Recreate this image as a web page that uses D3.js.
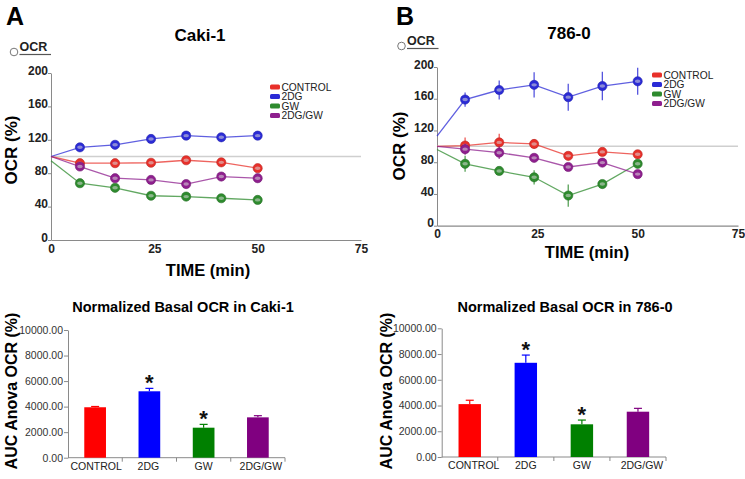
<!DOCTYPE html>
<html>
<head>
<meta charset="utf-8">
<script src="https://cdn.jsdelivr.net/npm/d3@7"></script>
<style>
  html, body { margin: 0; padding: 0; background: #fff; }
  svg { display: block; font-family: "Liberation Sans", Arial, sans-serif; }
</style>
</head>
<body>
<svg id="chart" width="745" height="479"></svg>
<script>
// ---------------- DATA ----------------
const times = [0, 7, 15.5, 24.2, 32.7, 41.2, 50];
const seriesNames = ["CONTROL", "2DG", "GW", "2DG/GW"];
const timeTicks = [0, 25, 50, 75];
const ocrTicks = [0, 40, 80, 120, 160, 200];
const referenceLevel = 100;

// Caki-1 OCR (%)
const cakiControl = [100, 92, 92, 92.5, 95.5, 93, 86];
const caki2DG     = [100, 111, 114, 121, 125, 123, 125];
const cakiGW      = [95, 68, 62.5, 53, 52, 50, 48];
const caki2DGGW   = [100, 88, 74, 72, 67, 76, 74];
const cakiControlErr = [0, 3, 3, 3, 3, 3, 3];
const caki2DGErr     = [0, 3, 3, 4, 5, 5, 5];
const cakiGWErr      = [0, 3, 4, 3, 4, 4, 4];
const caki2DGGWErr   = [0, 3, 3, 3, 3, 4, 5];

// 786-0 OCR (%)
const o786Control = [100, 101, 105, 103, 88, 93, 90];
const o7862DG     = [113, 159, 171, 177.5, 162, 176, 182];
const o786GW      = [96, 78, 69, 61, 38, 52.5, 78];
const o7862DGGW   = [100, 96.5, 92, 85.5, 74, 79.5, 65];
const o786ControlErr = [0, 10, 11, 6, 3, 3, 3];
const o7862DGErr     = [0, 9, 12, 16, 17, 18, 17];
const o786GWErr      = [0, 10, 3, 9, 14, 3, 3];
const o7862DGGWErr   = [0, 7, 8, 3, 3, 3, 3];

// AUC bar charts
const barCategories = ["CONTROL", "2DG", "GW", "2DG/GW"];
const aucTicks = [0, 2000, 4000, 6000, 8000, 10000];
const cakiAUC    = [3950, 5200, 2350, 3160];
const cakiAUCErr = [60, 230, 260, 130];
const o786AUC    = [4110, 7320, 2540, 3520];
const o786AUCErr = [300, 600, 330, 260];
const significance = ["", "*", "*", ""];

// ---------------- STYLE ----------------
const lineColors = ["#e8302a", "#2b2bd6", "#2e8b2e", "#8e1f8e"];
const barColors  = ["#ff0000", "#0000ff", "#008000", "#800080"];
const axisColor = "#8a8a8a";

const svg = d3.select("#chart");

// ---------------- LINE PANELS ----------------
function linePanel(cfg) {
  const g = svg.append("g");
  const x = d3.scaleLinear().domain([0, 75]).range(cfg.xr);
  const y = d3.scaleLinear().domain([0, 200]).range(cfg.yr);

  g.append("text").attr("x", cfg.letterX).attr("y", 25)
    .attr("font-size", 25).attr("font-weight", "bold").text(cfg.letter);
  g.append("text").attr("x", cfg.titleX).attr("y", cfg.titleY)
    .attr("text-anchor", "middle").attr("font-size", 17).attr("font-weight", "bold").text(cfg.title);
  // OCR small label
  g.append("circle").attr("cx", cfg.ocr[0]).attr("cy", cfg.ocr[1] + 3).attr("r", 3.8)
    .attr("fill", "none").attr("stroke", "#777").attr("stroke-width", 1);
  g.append("text").attr("x", cfg.ocr[0] + 5.5).attr("y", cfg.ocr[1] + 2)
    .attr("font-size", 12.5).attr("font-weight", "bold").attr("fill", "#222").text("OCR");
  g.append("line").attr("x1", cfg.ocr[0] + 5.5).attr("x2", cfg.ocr[0] + 37)
    .attr("y1", cfg.ocr[1] + 5.5).attr("y2", cfg.ocr[1] + 5.5)
    .attr("stroke", "#555").attr("stroke-width", 1.2);

  const yAxis = g.append("g").attr("transform", `translate(${cfg.xr[0]},0)`)
    .call(d3.axisLeft(y).tickValues(ocrTicks).tickSize(3).tickSizeOuter(0));
  yAxis.select(".domain").attr("stroke", axisColor);
  yAxis.selectAll(".tick line").attr("stroke", axisColor);
  yAxis.selectAll(".tick text").attr("font-size", 12).attr("font-weight", "bold")
    .attr("fill", "#222").attr("x", -3).attr("dy", "0.1em")
    .attr("font-family", "Liberation Sans, Arial, sans-serif");

  const xAxis = g.append("g").attr("transform", `translate(0,${cfg.yr[0]})`)
    .call(d3.axisBottom(x).tickValues(timeTicks).tickSize(0).tickSizeOuter(0));
  xAxis.select(".domain").attr("stroke", axisColor).attr("stroke-width", 1.2);
  xAxis.selectAll(".tick text").attr("font-size", 12).attr("font-weight", "bold")
    .attr("fill", "#222").attr("y", 4)
    .attr("font-family", "Liberation Sans, Arial, sans-serif");

  g.append("text").attr("x", cfg.timeX).attr("y", cfg.yr[0] + cfg.timeDy)
    .attr("text-anchor", "middle").attr("font-size", 16.5).attr("font-weight", "bold").text("TIME (min)");
  g.append("text").attr("transform", `translate(${cfg.ylabX},${cfg.ylabY}) rotate(-90)`)
    .attr("text-anchor", "middle").attr("font-size", 17).attr("font-weight", "bold").text("OCR (%)");

  g.append("line").attr("x1", x(0)).attr("x2", x(75))
    .attr("y1", y(referenceLevel)).attr("y2", y(referenceLevel))
    .attr("stroke", "#cfcfcf").attr("stroke-width", 1.5);

  const line = d3.line().x((d, i) => x(times[i])).y(d => y(d));
  cfg.series.forEach((vals, s) => {
    g.append("path").datum(vals).attr("d", line)
      .attr("fill", "none").attr("stroke", lineColors[s]).attr("stroke-opacity", 0.75).attr("stroke-width", 1.3);
  });
  cfg.series.forEach((vals, s) => {
    const errs = cfg.errors[s];
    vals.forEach((v, i) => {
      if (i === 0) return;
      const cx = x(times[i]), cy = y(v);
      g.append("line").attr("x1", cx).attr("x2", cx)
        .attr("y1", y(v - errs[i])).attr("y2", y(v + errs[i]))
        .attr("stroke", lineColors[s]).attr("stroke-opacity", 0.8).attr("stroke-width", 1.3);
      g.append("circle").attr("cx", cx).attr("cy", cy).attr("r", 4.6)
        .attr("fill", lineColors[s]).attr("stroke", d3.color(lineColors[s]).darker(0.6)).attr("stroke-width", 0.6);
      g.append("ellipse").attr("cx", cx).attr("cy", cy).attr("rx", 2.8).attr("ry", 1.7)
        .attr("fill", "#d8d8d8").attr("fill-opacity", 0.55);
    });
  });

  seriesNames.forEach((n, s) => {
    const ly = cfg.legend[1] + s * 9.5;
    g.append("rect").attr("x", cfg.legend[0]).attr("y", ly - 2.5).attr("width", 10).attr("height", 5)
      .attr("rx", 1.5).attr("fill", lineColors[s]);
    g.append("text").attr("x", cfg.legend[0] + 11.5).attr("y", ly + 3.6)
      .attr("font-size", 10.2).attr("fill", "#222").text(n);
  });
}

linePanel({
  letter: "A", letterX: 6, title: "Caki-1", titleX: 200, titleY: 41,
  ocr: [14, 49], xr: [51, 361], yr: [240, 73],
  timeX: 208, timeDy: 36, ylabX: 17, ylabY: 150,
  legend: [270, 87],
  series: [cakiControl, caki2DG, cakiGW, caki2DGGW],
  errors: [cakiControlErr, caki2DGErr, cakiGWErr, caki2DGGWErr]
});
linePanel({
  letter: "B", letterX: 396, title: "786-0", titleX: 569, titleY: 39,
  ocr: [401.5, 43], xr: [437, 738], yr: [225.7, 67],
  timeX: 587, timeDy: 32, ylabX: 405, ylabY: 146,
  legend: [652, 75],
  series: [o786Control, o7862DG, o786GW, o7862DGGW],
  errors: [o786ControlErr, o7862DGErr, o786GWErr, o7862DGGWErr]
});

// ---------------- BAR PANELS ----------------
function barPanel(cfg) {
  const g = svg.append("g");
  const x = d3.scaleBand().domain(barCategories).range(cfg.xr).padding(0);
  const y = d3.scaleLinear().domain([0, 10000]).range(cfg.yr);
  const bw = x.bandwidth() * 0.4;

  g.append("text").attr("x", cfg.titleX).attr("y", 312)
    .attr("text-anchor", "middle").attr("font-size", 14.5).attr("font-weight", "bold").text(cfg.title);
  g.append("text").attr("transform", `translate(${cfg.ylabX},${cfg.ylabY}) rotate(-90)`)
    .attr("text-anchor", "middle").attr("font-size", 16).attr("font-weight", "bold").text("AUC Anova OCR (%)");

  const yAxis = g.append("g").attr("transform", `translate(${cfg.xr[0]},0)`)
    .call(d3.axisLeft(y).tickValues(aucTicks).tickFormat(d3.format(".2f")).tickSize(4).tickSizeOuter(0));
  yAxis.select(".domain").attr("stroke", axisColor);
  yAxis.selectAll(".tick line").attr("stroke", axisColor);
  yAxis.selectAll(".tick text").attr("font-size", 10.5).attr("fill", "#333").attr("x", -5)
    .attr("font-family", "Liberation Sans, Arial, sans-serif");

  g.append("line").attr("x1", cfg.xr[0]).attr("x2", cfg.xr[1])
    .attr("y1", cfg.yr[0]).attr("y2", cfg.yr[0]).attr("stroke", axisColor);
  barCategories.forEach((c, i) => {
    const bx = x(c) + x.bandwidth();
    g.append("line").attr("x1", bx).attr("x2", bx).attr("y1", cfg.yr[0]).attr("y2", cfg.yr[0] + 4)
      .attr("stroke", axisColor);
    g.append("text").attr("x", x(c) + x.bandwidth() / 2 + cfg.labelShift[i]).attr("y", cfg.yr[0] + 12)
      .attr("text-anchor", "middle").attr("font-size", 10.5).attr("fill", "#222").text(c);
  });

  cfg.values.forEach((v, i) => {
    const c = barCategories[i];
    const cx = x(c) + x.bandwidth() / 2;
    const top = y(v + cfg.errs[i]);
    g.append("line").attr("x1", cx).attr("x2", cx).attr("y1", y(v)).attr("y2", top)
      .attr("stroke", barColors[i]).attr("stroke-width", 1.2);
    g.append("line").attr("x1", cx - 4).attr("x2", cx + 4).attr("y1", top).attr("y2", top)
      .attr("stroke", barColors[i]).attr("stroke-width", 1.2);
    g.append("rect").attr("x", cx - bw / 2).attr("y", y(v)).attr("width", bw)
      .attr("height", y(0) - y(v)).attr("fill", barColors[i]);
    if (significance[i]) {
      g.append("text").attr("x", cx).attr("y", top + 2).attr("text-anchor", "middle")
        .attr("font-size", 22).attr("font-weight", "bold").attr("fill", "#111").text(significance[i]);
    }
  });
}

barPanel({
  title: "Normalized Basal OCR in Caki-1", titleX: 183,
  xr: [68, 285], yr: [457.7, 330], ylabX: 17, ylabY: 391,
  labelShift: [1, -1, 0, 3],
  values: cakiAUC, errs: cakiAUCErr
});
barPanel({
  title: "Normalized Basal OCR in 786-0", titleX: 565,
  xr: [441.7, 666], yr: [457, 328.3], ylabX: 392, ylabY: 391,
  labelShift: [4, 0, 0, 4],
  values: o786AUC, errs: o786AUCErr
});
</script>
</body>
</html>
